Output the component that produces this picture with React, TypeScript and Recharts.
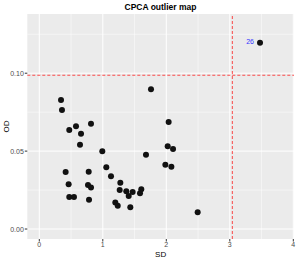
import React from "react";
import {
  ScatterChart,
  Scatter,
  XAxis,
  YAxis,
  CartesianGrid,
  ReferenceLine,
  ReferenceArea,
  LabelList,
  Label,
} from "recharts";

// Score distance (SD) and orthogonal distance (OD) per observation
const sdValues = [
  3.476, 1.759, 0.342, 0.357, 2.037, 0.814, 0.578, 0.472, 0.657, 0.641,
  0.992, 1.68, 2.022, 2.106, 1.985, 2.08, 1.055, 1.129, 0.415, 0.778,
  0.462, 0.767, 0.814, 1.276, 1.266, 1.37, 1.47, 1.408, 1.586, 1.606,
  0.472, 0.546, 0.783, 1.197, 1.235, 1.433, 2.494,
];
const odValues = [
  0.1196, 0.0897, 0.0828, 0.0764, 0.0687, 0.0676, 0.0659, 0.0635, 0.0612, 0.0541,
  0.0499, 0.0477, 0.0531, 0.0513, 0.0413, 0.04, 0.0396, 0.0338, 0.0366, 0.0368,
  0.0287, 0.0282, 0.0267, 0.0297, 0.025, 0.0242, 0.0237, 0.0212, 0.0229, 0.0255,
  0.0205, 0.0205, 0.0188, 0.0171, 0.015, 0.0139, 0.0107,
];
const pointLabels = ["26"]; // label for the first (outlier) point only

const sdCutoff = 3.04;
const odCutoff = 0.0987;

const xTicks = [0, 1, 2, 3, 4];
const xMinor = [0.5, 1.5, 2.5, 3.5];
const yTicks = [0, 0.05, 0.1];
const yMinor = [0.025, 0.075, 0.125];

const data = sdValues.map((sd, i) => ({
  sd,
  od: odValues[i],
  label: pointLabels[i] ?? "",
}));

const tickStyle = { fontSize: 7, fill: "#4D4D4D", fontFamily: "Liberation Sans, Arial, sans-serif" };

const renderLabel = (props: any) => {
  const { x, y, value } = props;
  if (!value) return null;
  return (
    <text
      x={x - 1.5}
      y={y + 3}
      textAnchor="end"
      dominantBaseline="central"
      fontSize={7}
      fill="#3333FF"
      fontFamily="Liberation Sans, Arial, sans-serif"
    >
      {value}
    </text>
  );
};

export default function App() {
  return (
    <div style={{ position: "absolute", left: 0, top: 0, width: 297, height: 260, background: "#fff" }}>
      <div
        style={{
          position: "absolute",
          left: 27,
          width: 267,
          top: 1,
          textAlign: "center",
          fontSize: 8.5,
          fontWeight: "bold",
          fontFamily: "Liberation Sans, Arial, sans-serif",
          lineHeight: "12px",
        }}
      >
        CPCA outlier map
      </div>
      <ScatterChart
        width={297}
        height={260}
        margin={{ top: 14, right: 3, bottom: 0, left: 0 }}
      >
        <CartesianGrid fill="#EBEBEB" stroke="#FFFFFF" strokeWidth={1} verticalValues={xTicks} horizontalValues={yTicks} />
        {xMinor.map((v) => (
          <ReferenceLine key={"xm" + v} x={v} stroke="#FFFFFF" strokeWidth={0.5} />
        ))}
        {yMinor.map((v) => (
          <ReferenceLine key={"ym" + v} y={v} stroke="#FFFFFF" strokeWidth={0.5} />
        ))}
        <XAxis
          type="number"
          dataKey="sd"
          domain={[-0.189, 4.011]}
          ticks={xTicks}
          allowDataOverflow
          height={21}
          tick={tickStyle}
          tickSize={2.5}
          tickMargin={1}
          tickLine={{ stroke: "#333333" }}
          axisLine={false}
        >
          <Label
            value="SD"
            position="insideBottom"
            offset={3}
            style={{ fontSize: 8, fill: "#000", fontFamily: "Liberation Sans, Arial, sans-serif" }}
          />
        </XAxis>
        <YAxis
          type="number"
          dataKey="od"
          domain={[-0.0064, 0.138]}
          ticks={yTicks}
          allowDataOverflow
          width={27.3}
          tick={tickStyle}
          tickFormatter={(v: number) => v.toFixed(2)}
          tickSize={2.5}
          tickMargin={1}
          tickLine={{ stroke: "#333333" }}
          axisLine={false}
        >
          <Label
            value="OD"
            angle={-90}
            position="insideLeft"
            offset={6}
            style={{ fontSize: 8, fill: "#000", fontFamily: "Liberation Sans, Arial, sans-serif", textAnchor: "middle" }}
          />
        </YAxis>
        <ReferenceLine x={sdCutoff} stroke="#FF2020" strokeWidth={0.8} strokeDasharray="3 2" />
        <ReferenceLine y={odCutoff} stroke="#FF2020" strokeWidth={0.8} strokeDasharray="3 2" />
        <ReferenceArea fill="none" stroke="#000" strokeWidth={1} fillOpacity={0} ifOverflow="visible" />
        <Scatter data={data} fill="#111111" isAnimationActive={false} shape={(p: any) => <circle cx={p.cx} cy={p.cy} r={3} fill="#111111" />}>
          <LabelList dataKey="label" content={renderLabel} />
        </Scatter>
      </ScatterChart>
    </div>
  );
}
